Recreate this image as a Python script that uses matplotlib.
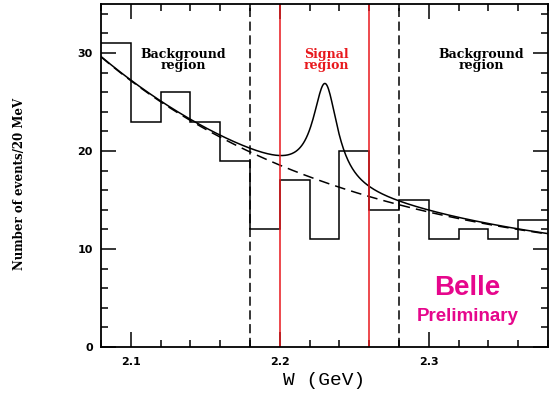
import numpy as np
import matplotlib
matplotlib.use("Agg")
import matplotlib.pyplot as plt
from matplotlib.ticker import MultipleLocator

# Histogram data (20 MeV bins)
bin_edges = [2.08, 2.10, 2.12, 2.14, 2.16, 2.18, 2.20, 2.22, 2.24, 2.26,
             2.28, 2.30, 2.32, 2.34, 2.36, 2.38]
counts = [31, 23, 26, 23, 19, 12, 17, 11, 20, 14, 15, 11, 12, 11, 13]

# Fit parameters
bg_const = 7.79
bg_amp = 21.81
bg_slope = 0.17
bg_x0 = 2.08
peak_amp = 10.1
peak_mass = 2.2305
peak_width = 0.020

# Region boundaries
bg_bounds = [2.18, 2.28]
sig_bounds = [2.20, 2.26]

x_ticks = [2.1, 2.2, 2.3]
y_ticks = [0, 10, 20, 30]

fig = plt.figure(figsize=(5.53, 3.94), dpi=100)
ax = fig.add_axes([101/553, 1-347/394, 447/553, 343/394])

ax.stairs(counts, bin_edges, color='black', lw=1.1, baseline=None)

x = np.linspace(2.08, 2.38, 600)
bg = bg_const + bg_amp*np.exp(-(x-bg_x0)/bg_slope)
sig = peak_amp/(1+((x-peak_mass)/(peak_width/2))**2)
ax.plot(x, bg, color='black', lw=1.1, ls=(0, (7, 4)))
ax.plot(x, bg+sig, color='black', lw=1.1)

for b in bg_bounds:
    ax.axvline(b, color='black', lw=1.1, ls=(0, (6, 3)))
for s in sig_bounds:
    ax.axvline(s, color='#e8181c', lw=1.1)

ax.set_xlim(2.08, 2.38)
ax.set_ylim(0, 35)
ax.set_xticks(x_ticks)
ax.set_yticks(y_ticks)
ax.xaxis.set_minor_locator(MultipleLocator(0.02))
ax.yaxis.set_minor_locator(MultipleLocator(2))
ax.tick_params(which='both', direction='in', top=True, right=True, width=1.1)
ax.tick_params(which='major', length=11)
ax.tick_params(which='minor', length=5)
ax.tick_params(axis='x', which='major', pad=7)
ax.tick_params(axis='y', which='major', pad=6)
for lab in ax.get_xticklabels() + ax.get_yticklabels():
    lab.set_fontweight('bold')
    lab.set_fontsize(8)
    lab.set_family('DejaVu Sans')
for sp in ax.spines.values():
    sp.set_linewidth(1.3)

ax.set_xlabel('W (GeV)', family='Liberation Mono', fontsize=14, labelpad=4)
fig.text(20/553, 1-184/394, 'Number of events/20 MeV', rotation=90,
         ha='center', va='center', family='DejaVu Serif', fontweight='bold',
         fontsize=8.5)

txt_kw = dict(ha='center', va='center', family='DejaVu Serif',
              fontweight='bold', fontsize=9, linespacing=0.8)
ax.text(2.135, 29.3, 'Background\nregion', color='black', **txt_kw)
ax.text(2.2315, 29.3, 'Signal\nregion', color='#e8181c', **txt_kw)
ax.text(2.335, 29.3, 'Background\nregion', color='black', **txt_kw)

ax.text(2.326, 6.0, 'Belle', color='#e6068c', ha='center', va='center',
        family='Liberation Sans', fontweight='bold', fontsize=20)
ax.text(2.326, 3.1, 'Preliminary', color='#e6068c', ha='center', va='center',
        family='Liberation Sans', fontweight='bold', fontsize=13.5)

fig.savefig('out.png', dpi=100)
